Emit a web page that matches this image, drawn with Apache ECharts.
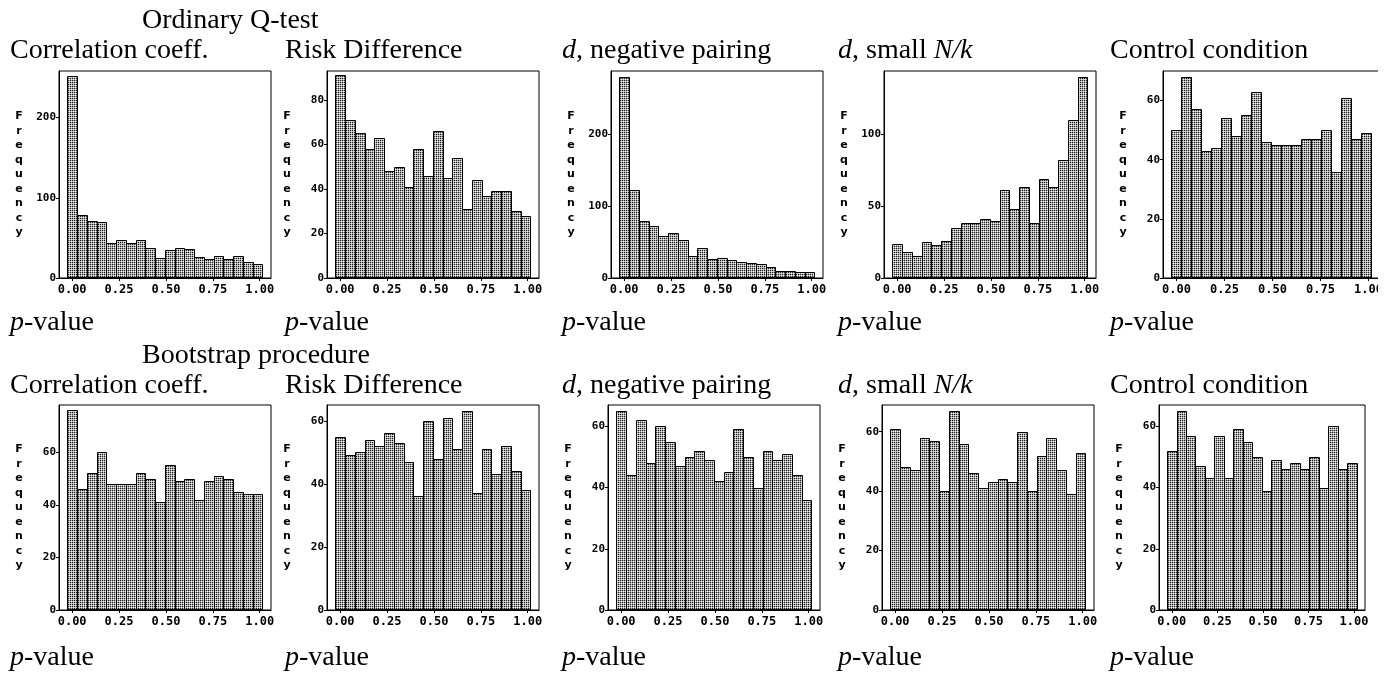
<!DOCTYPE html>
<html>
<head>
<meta charset="utf-8">
<script src="https://cdn.jsdelivr.net/npm/echarts@6/dist/echarts.min.js"></script>
<style>
html,body{margin:0;padding:0;background:#fff;}
#chart{width:1393px;height:677px;}
</style>
</head>
<body>
<div id="chart"></div>
<script>
// ---------- DATA ----------
const BIN_MIDS = [0.000,0.052,0.104,0.156,0.208,0.260,0.312,0.364,0.416,0.468,0.520,0.572,0.624,0.676,0.728,0.780,0.832,0.884,0.936,0.988];
const BIN_WIDTH = 0.052;
const X_TICKS = [0, 0.25, 0.5, 0.75, 1];

const SECTION_TITLES = ["Ordinary Q-test", "Bootstrap procedure"];
const PANEL_TITLES = ["Correlation coeff.", "Risk Difference", "{i|d}, negative pairing", "{i|d}, small {i|N/k}", "Control condition"];
const X_NAME = "{i|p}-value";
const Y_NAME = "Frequency";

// Ordinary Q-test
const ordCorr    = [252,79,71,70,44,47,44,47,37,25,35,37,36,26,24,27,24,27,20,18];
const ordRisk    = [91,71,65,58,63,48,50,41,58,46,66,45,54,31,44,37,39,39,30,28];
const ordNegPair = [280,123,79,73,58,62,53,31,42,27,28,25,22,21,20,16,10,10,9,8];
const ordSmallNk = [24,18,15,25,23,26,35,38,38,41,40,61,48,63,38,69,63,82,110,140];
const ordControl = [50,68,57,43,44,54,48,55,63,46,45,45,45,47,47,50,36,61,47,49];
// Bootstrap procedure
const bootCorr    = [76,46,52,60,48,48,48,52,50,41,55,49,50,42,49,51,50,45,44,44];
const bootRisk    = [55,49,50,54,52,56,53,47,36,60,48,61,51,63,37,51,43,52,44,38];
const bootNegPair = [65,44,62,48,60,55,47,50,52,49,42,45,59,50,40,52,49,51,44,36];
const bootSmallNk = [61,48,47,58,57,40,67,56,46,41,43,44,43,60,40,52,58,47,39,53];
const bootControl = [52,65,57,47,43,57,43,59,55,50,39,49,46,48,46,50,40,60,46,48];

// y-axis tick labels and axis tops
const ordYTicks  = [[0,100,200],[0,20,40,60,80],[0,100,200],[0,50,100],[0,20,40,60]];
const ordYMax    = [258, 93, 288, 144, 70];
const bootYTicks = [[0,20,40,60],[0,20,40,60],[0,20,40,60],[0,20,40,60],[0,20,40,60]];
const bootYMax   = [78, 65, 67, 69, 67];

const ROWS = [
  {series:[ordCorr,ordRisk,ordNegPair,ordSmallNk,ordControl], ticks:ordYTicks, ymax:ordYMax},
  {series:[bootCorr,bootRisk,bootNegPair,bootSmallNk,bootControl], ticks:bootYTicks, ymax:bootYMax}
];

// ---------- LAYOUT ----------
const COL_LEFT   = [[59,327,611,884,1163],[59,327,608,882,1159]];
const COL_WIDTH  = [[212,212,212,212,217],[212,212,212,212,206]];
const ROW_TOP    = [71, 405];
const ROW_HEIGHT = [207, 205];
const TITLE_LEFT = [10, 285, 562, 838, 1110];
const SECTION_Y  = [21, 356];
const TITLE_Y    = [51, 386];
const XNAME_Y    = [323, 658];
const X_MIN = -0.07, X_MAX = 1.06;

// bar fill pattern (dotted grid)
const pat = document.createElement('canvas');
pat.width = 2; pat.height = 2;
const pctx = pat.getContext('2d');
pctx.fillStyle = '#eee'; pctx.fillRect(0,0,2,2);
pctx.fillStyle = '#222'; pctx.fillRect(0,0,1,1);
pctx.fillStyle = '#aaa'; pctx.fillRect(1,0,1,1); pctx.fillRect(0,1,1,1);
const FILL = {image: pat, repeat: 'repeat'};

const serif = '"Liberation Serif","Times New Roman",serif';
const mono = '"DejaVu Sans Mono",monospace';

const grids = [], xAxes = [], yAxes = [], series = [], graphics = [];
let idx = 0;
ROWS.forEach((row, r) => {
  row.series.forEach((vals, c) => {
    grids.push({left: COL_LEFT[r][c], top: ROW_TOP[r], width: COL_WIDTH[r][c], height: ROW_HEIGHT[r],
      show: true, borderColor: '#000', borderWidth: 1, backgroundColor: '#fff', containLabel: false});
    xAxes.push({type: 'value', gridIndex: idx, min: X_MIN, max: X_MAX,
      axisLine: {show: true, onZero: false, lineStyle: {color: '#000', width: 1}},
      axisTick: {show: true, length: 3, customValues: X_TICKS, lineStyle: {color: '#000'}},
      axisLabel: {show: true, customValues: X_TICKS, margin: 6, color: '#000',
        fontFamily: mono, fontWeight: 'bold', fontSize: 12, formatter: v => v.toFixed(2)},
      splitLine: {show: false}});
    yAxes.push({type: 'value', gridIndex: idx, min: 0, max: row.ymax[c],
      name: Y_NAME.split('').join('\n'), nameLocation: 'middle', nameRotate: 0, nameGap: 40,
      nameTextStyle: {fontFamily: '"DejaVu Sans",sans-serif', fontWeight: 'bold', fontSize: 11, lineHeight: 14.5,
        color: '#000', align: 'center', verticalAlign: 'middle'},
      axisLine: {show: true, onZero: false, lineStyle: {color: '#000', width: 1}},
      axisTick: {show: true, length: 3, customValues: row.ticks[c], lineStyle: {color: '#000'}},
      axisLabel: {show: true, customValues: row.ticks[c], margin: 3, color: '#000',
        fontFamily: mono, fontWeight: 'bold', fontSize: 11},
      splitLine: {show: false}});
    series.push({type: 'custom', xAxisIndex: idx, yAxisIndex: idx,
      data: vals.map((v, i) => [BIN_MIDS[i], v]),
      renderItem: (params, api) => {
        const x = api.value(0), y = api.value(1);
        const p0 = api.coord([x - BIN_WIDTH/2, y]);
        const p1 = api.coord([x + BIN_WIDTH/2, 0]);
        const x0 = Math.round(p0[0]) + 0.5, x1 = Math.round(p1[0]) + 0.5;
        const y0 = Math.round(p0[1]) + 0.5, y1 = Math.round(p1[1]) - 0.5;
        return {type: 'rect', shape: {x: x0, y: y0, width: x1 - x0, height: y1 - y0},
          style: {fill: FILL, stroke: '#000', lineWidth: 1}};
      },
      silent: true, animation: false});
    idx++;
  });
});

for (let r = 0; r < 2; r++) {
  graphics.push({type: 'text', left: 142, top: SECTION_Y[r] - 14, z: 100,
    style: {text: SECTION_TITLES[r], fontFamily: serif, fontSize: 28, fill: '#000'}});
  for (let c = 0; c < 5; c++) {
    graphics.push({type: 'text', left: TITLE_LEFT[c], top: TITLE_Y[r] - 14, z: 100,
      style: {text: PANEL_TITLES[c], fontFamily: serif, fontSize: 28, fill: '#000',
        rich: {i: {fontFamily: serif, fontSize: 28, fontStyle: 'italic', fill: '#000'}}}});
    graphics.push({type: 'text', left: TITLE_LEFT[c], top: XNAME_Y[r] - 14, z: 100,
      style: {text: X_NAME, fontFamily: serif, fontSize: 28, fill: '#000',
        rich: {i: {fontFamily: serif, fontSize: 28, fontStyle: 'italic', fill: '#000'}}}});
  }
}
// right edge of the source picture cuts the first-row last panel
graphics.push({type: 'rect', left: 1378, top: 60, z: 90, shape: {width: 15, height: 250}, style: {fill: '#fff'}});

const chart = echarts.init(document.getElementById('chart'), null, {renderer: 'canvas'});
chart.setOption({
  animation: false,
  backgroundColor: '#fff',
  grid: grids, xAxis: xAxes, yAxis: yAxes, series: series, graphic: graphics
});
</script>
</body>
</html>
